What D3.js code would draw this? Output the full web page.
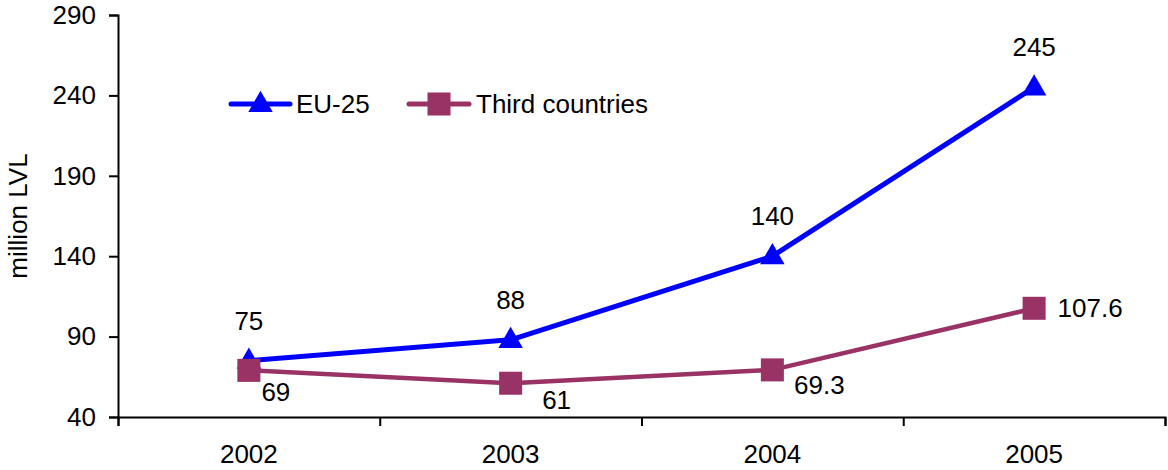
<!DOCTYPE html>
<html>
<head>
<meta charset="utf-8">
<script src="https://cdn.jsdelivr.net/npm/d3@7"></script>
<style>
  html, body { margin: 0; padding: 0; background: #fff; }
  svg text { font-family: "Liberation Sans", Arial, sans-serif; fill: #000; }
</style>
</head>
<body>
<svg id="chart" width="1168" height="470"></svg>
<script>
const years = ["2002", "2003", "2004", "2005"];
const eu25 = [75, 88, 140, 245];
const third = [69, 61, 69.3, 107.6];
const euLabels = ["75", "88", "140", "245"];
const thirdLabels = ["69", "61", "69.3", "107.6"];
const yTicks = [40, 90, 140, 190, 240, 290];
const seriesNames = ["EU-25", "Third countries"];

// label offsets (relative to each point) for the third countries series
const thirdLabelOffsets = [[27, 22], [46, 17], [47, 15], [56, 0]];

(function () {
const svg = d3.select("#chart");
const pLeft = 118, pRight = 1165, pTop = 15, pBottom = 417;
const FS = 26;

const x = d3.scaleBand().domain(years).range([pLeft, pRight]).padding(0);
const y = d3.scaleLinear().domain([40, 290]).range([pBottom, pTop]);
const cx = d => x(d) + x.bandwidth() / 2;

// Y axis
const yAxis = svg.append("g")
  .attr("transform", `translate(${pLeft},0)`)
  .call(d3.axisLeft(y).tickValues(yTicks).tickSize(9).tickPadding(13));
yAxis.select(".domain").attr("stroke", "#000").attr("stroke-width", 2);
yAxis.selectAll(".tick line").attr("stroke", "#000").attr("stroke-width", 2);
yAxis.selectAll(".tick text").attr("font-size", FS).attr("font-family", "Liberation Sans, Arial, sans-serif").attr("fill", "#000");

// X axis: boundary ticks
const xb = d3.scaleLinear().domain([0, years.length]).range([pLeft, pRight]);
const xAxis = svg.append("g")
  .attr("transform", `translate(0,${pBottom})`)
  .call(d3.axisBottom(xb).tickValues(d3.range(years.length + 1)).tickSize(9).tickFormat(""));
xAxis.select(".domain").attr("stroke", "#000").attr("stroke-width", 2);
xAxis.selectAll(".tick line").attr("stroke", "#000").attr("stroke-width", 2);

// X labels at band centers
const xLab = svg.append("g")
  .attr("transform", `translate(0,${pBottom})`)
  .call(d3.axisBottom(x).tickSize(0).tickPadding(28));
xLab.select(".domain").remove();
xLab.selectAll(".tick text").attr("font-size", FS).attr("font-family", "Liberation Sans, Arial, sans-serif").attr("fill", "#000");

// Y title
svg.append("text")
  .attr("transform", `translate(27,${(pTop + pBottom) / 2}) rotate(-90)`)
  .attr("text-anchor", "middle")
  .attr("font-size", FS)
  .text("million LVL");

const blue = "#0000FF", maroon = "#993366";
const line = d3.line().x(d => cx(d.year)).y(d => y(d.v));
const euData = years.map((yr, i) => ({ year: yr, v: eu25[i] }));
const thData = years.map((yr, i) => ({ year: yr, v: third[i] }));

svg.append("path").datum(thData).attr("d", line)
  .attr("fill", "none").attr("stroke", maroon).attr("stroke-width", 4.5).attr("stroke-linejoin", "round");
svg.append("path").datum(euData).attr("d", line)
  .attr("fill", "none").attr("stroke", blue).attr("stroke-width", 5).attr("stroke-linejoin", "round");

const triSym = d3.symbol().type(d3.symbolTriangle).size(260);
const sqSym = d3.symbol().type(d3.symbolSquare).size(530);

svg.selectAll(".tri").data(euData).enter().append("path")
  .attr("transform", d => `translate(${cx(d.year)},${y(d.v) + 1})`)
  .attr("d", triSym).attr("fill", blue);
svg.selectAll(".sq").data(thData).enter().append("path")
  .attr("transform", d => `translate(${cx(d.year)},${y(d.v)})`)
  .attr("d", sqSym).attr("fill", maroon);

// Data labels
svg.selectAll(".eul").data(euData).enter().append("text")
  .attr("x", d => cx(d.year))
  .attr("y", d => y(d.v) - 40)
  .attr("dy", "0.35em")
  .attr("text-anchor", "middle")
  .attr("font-size", FS)
  .text((d, i) => euLabels[i]);
svg.selectAll(".thl").data(thData).enter().append("text")
  .attr("x", (d, i) => cx(d.year) + thirdLabelOffsets[i][0])
  .attr("y", (d, i) => y(d.v) + thirdLabelOffsets[i][1])
  .attr("dy", "0.35em")
  .attr("text-anchor", "middle")
  .attr("font-size", FS)
  .text((d, i) => thirdLabels[i]);

// Legend
const lg = svg.append("g");
const legendItems = [
  { name: seriesNames[0], color: blue, sym: triSym, x0: 231, x1: 290, tx: 296, dyS: 1 },
  { name: seriesNames[1], color: maroon, sym: sqSym, x0: 409, x1: 469, tx: 476, dyS: 0 }
];
const ly = 104;
legendItems.forEach(it => {
  lg.append("line").attr("x1", it.x0).attr("x2", it.x1).attr("y1", ly).attr("y2", ly)
    .attr("stroke", it.color).attr("stroke-width", 5).attr("stroke-linecap", "round");
  lg.append("path").attr("transform", `translate(${(it.x0 + it.x1) / 2},${ly + it.dyS})`)
    .attr("d", it.sym).attr("fill", it.color);
  lg.append("text").attr("x", it.tx).attr("y", ly).attr("dy", "0.35em")
    .attr("font-size", FS).text(it.name);
});
})();
</script>
</body>
</html>
